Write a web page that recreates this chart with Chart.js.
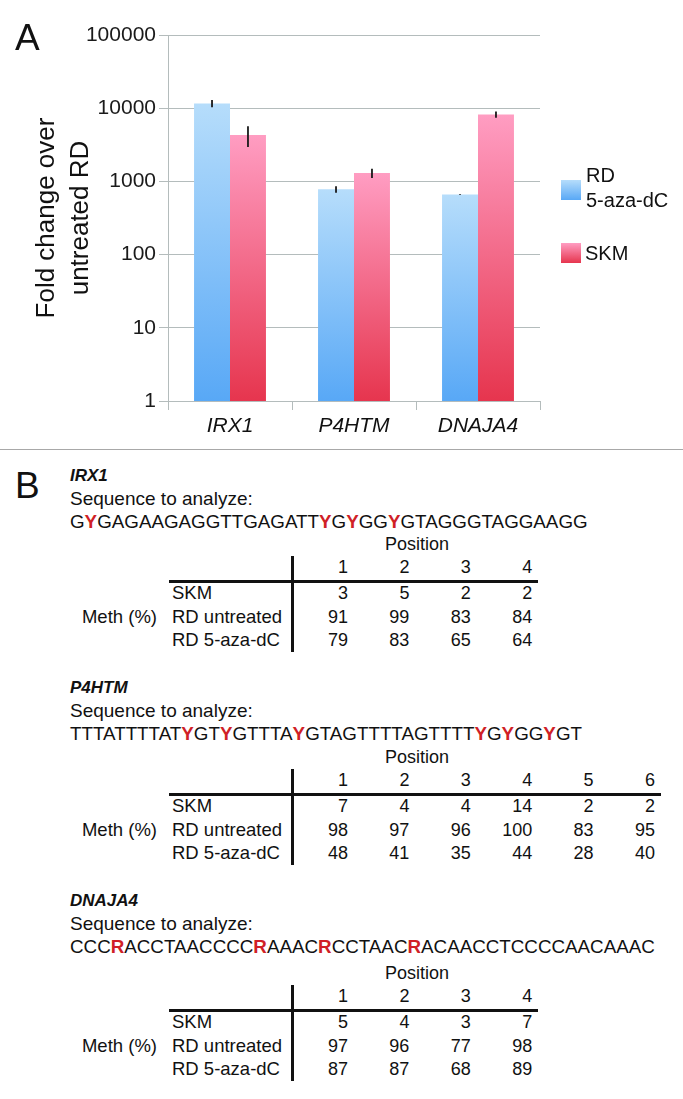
<!DOCTYPE html>
<html>
<head>
<meta charset="utf-8">
<script src="https://cdn.jsdelivr.net/npm/chart.js@4.4.0/dist/chart.umd.min.js"></script>
<style>
  body { margin: 0; background: #fff; }
  #page { position: relative; width: 683px; height: 1099px; overflow: hidden;
          font-family: "Liberation Sans", Arial, sans-serif; color: #111; }
  #chartBox { position: absolute; left: 0; top: 0; width: 683px; height: 449px; }
  .t { position: absolute; line-height: 1; white-space: nowrap; transform: translateY(-50%); }
  .r { transform: translate(-100%, -50%); }
  .c { transform: translate(-50%, -50%); }
  .sep { position: absolute; left: 0; top: 449px; width: 683px; height: 1px; background: #a8a8a8; }
  .rule { position: absolute; background: #111; }
  .deg { color: #d01f27; font-weight: bold; }
  .sw { position: absolute; width: 20px; height: 20px; }
</style>
</head>
<body>
<div id="page">
  <div id="chartBox"><canvas id="foldChart"></canvas></div>
  <div class="sep"></div>
</div>
<script>
// panel A
const genes = ["IRX1", "P4HTM", "DNAJA4"];
const rdAzaValues = [11600, 780, 660];
const rdAzaErrors = [1300, 80, 10];
const skmValues = [4300, 1300, 8200];
const skmErrors = [1350, 190, 820];
const tickValues = [1, 10, 100, 1000, 10000, 100000];
const tickLabels = ["1", "10", "100", "1000", "10000", "100000"];
const seriesNames = [["RD", "5-aza-dC"], ["SKM"]];

// panel B
const rowNames = ["SKM", "RD untreated", "RD 5-aza-dC"];
const irx1Sequence = "GYGAGAAGAGGTTGAGATTYGYGGYGTAGGGTAGGAAGG";
const irx1Positions = [1, 2, 3, 4];
const irx1Skm = [3, 5, 2, 2];
const irx1Untreated = [91, 99, 83, 84];
const irx1Aza = [79, 83, 65, 64];
const p4htmSequence = "TTTATTTTATYGTYGTTTAYGTAGTTTTAGTTTTYGYGGYGT";
const p4htmPositions = [1, 2, 3, 4, 5, 6];
const p4htmSkm = [7, 4, 4, 14, 2, 2];
const p4htmUntreated = [98, 97, 96, 100, 83, 95];
const p4htmAza = [48, 41, 35, 44, 28, 40];
const dnaja4Sequence = "CCCRACCTAACCCCRAAACRCCTAACRACAACCTCCCCAACAAAC";
const dnaja4Positions = [1, 2, 3, 4];
const dnaja4Skm = [5, 4, 3, 7];
const dnaja4Untreated = [97, 96, 77, 98];
const dnaja4Aza = [87, 87, 68, 89];

const family = "'Liberation Sans', Arial, sans-serif";
const gridColor = "#b4bcbc";
const page = document.getElementById("page");

function barGradient(light, dark) {
    return function(ctx) {
        const chart = ctx.chart;
        const area = chart.chartArea;
        if (!area || ctx.raw == null) return dark;
        const top = chart.scales.y.getPixelForValue(ctx.raw);
        const g = chart.ctx.createLinearGradient(0, top, 0, area.bottom);
        g.addColorStop(0, light);
        g.addColorStop(1, dark);
        return g;
    };
}

const errorBars = {
    id: "errorBars",
    afterDatasetsDraw(chart) {
        const c = chart.ctx;
        const y = chart.scales.y;
        const errs = [rdAzaErrors, skmErrors];
        c.save();
        c.strokeStyle = "#1a1a1a";
        c.lineWidth = 1.8;
        chart.data.datasets.forEach((ds, i) => {
            chart.getDatasetMeta(i).data.forEach((bar, j) => {
                const v = ds.data[j];
                const e = errs[i][j];
                c.beginPath();
                c.moveTo(bar.x, y.getPixelForValue(v + e));
                c.lineTo(bar.x, y.getPixelForValue(v - e));
                c.stroke();
            });
        });
        c.restore();
    }
};

new Chart(document.getElementById("foldChart"), {
    type: "bar",
    data: {
        labels: genes,
        datasets: [{
            label: seriesNames[0].join(" "),
            data: rdAzaValues,
            backgroundColor: barGradient("#b6ddfb", "#58a8f6"),
            categoryPercentage: 0.58,
            barPercentage: 1
        }, {
            label: seriesNames[1].join(" "),
            data: skmValues,
            backgroundColor: barGradient("#ff9dc2", "#e6354e"),
            categoryPercentage: 0.58,
            barPercentage: 1
        }]
    },
    options: {
        responsive: true,
        maintainAspectRatio: false,
        animation: false,
        layout: { padding: { left: 0, right: 143, top: 35, bottom: 0 } },
        plugins: { legend: { display: false }, tooltip: { enabled: false } },
        scales: {
            y: {
                type: "logarithmic",
                min: 1,
                max: 100000,
                afterBuildTicks(scale) {
                    scale.ticks = tickValues.map(v => ({ value: v }));
                },
                afterFit(scale) { scale.width = 168; },
                ticks: {
                    autoSkip: false,
                    padding: 3,
                    color: "#1a1a1a",
                    font: { size: 21, family: family },
                    callback: v => tickLabels[tickValues.indexOf(v)] || ""
                },
                grid: { color: gridColor, tickLength: 9 },
                border: { color: gridColor },
                title: {
                    display: true,
                    text: ["Fold change over", "untreated RD"],
                    color: "#111",
                    font: { size: 26, family: family, lineHeight: 1.34 },
                    padding: { top: 29, bottom: 0 }
                }
            },
            x: {
                afterFit(scale) { scale.height = 48; },
                ticks: {
                    padding: 4,
                    color: "#111",
                    font: { size: 21, style: "italic", family: family }
                },
                grid: { drawOnChartArea: false, offset: true, tickLength: 9, color: gridColor },
                border: { color: gridColor }
            }
        }
    },
    plugins: [errorBars]
});

function put(html, x, y, size, anchor, extra) {
    const d = document.createElement("div");
    d.className = "t" + (anchor ? " " + anchor : "");
    d.style.left = x + "px";
    d.style.top = y + "px";
    d.style.fontSize = size + "px";
    if (extra) Object.assign(d.style, extra);
    d.innerHTML = html;
    page.appendChild(d);
}

function rule(x, y, w, h) {
    const d = document.createElement("div");
    d.className = "rule";
    d.style.left = x + "px";
    d.style.top = y + "px";
    d.style.width = w + "px";
    d.style.height = h + "px";
    page.appendChild(d);
}

// panel letters and legend
put("A", 15, 37, 37);
put("B", 15, 485, 37);

const swatchBlue = document.createElement("div");
swatchBlue.className = "sw";
swatchBlue.style.left = "561px";
swatchBlue.style.top = "180px";
swatchBlue.style.background = "linear-gradient(#b6ddfb, #58a8f6)";
page.appendChild(swatchBlue);
const swatchPink = document.createElement("div");
swatchPink.className = "sw";
swatchPink.style.left = "561px";
swatchPink.style.top = "243px";
swatchPink.style.background = "linear-gradient(#ff9dc2, #e6354e)";
page.appendChild(swatchPink);
put(seriesNames[0][0], 586, 175, 20);
put(seriesNames[0][1], 586, 200, 20);
put(seriesNames[1][0], 585, 253, 20);

// methylation tables
const blocks = [
    { gene: genes[0], seq: irx1Sequence, pos: irx1Positions, rows: [irx1Skm, irx1Untreated, irx1Aza], top: 475, tab: 69 },
    { gene: genes[1], seq: p4htmSequence, pos: p4htmPositions, rows: [p4htmSkm, p4htmUntreated, p4htmAza], top: 687, tab: 70 },
    { gene: genes[2], seq: dnaja4Sequence, pos: dnaja4Positions, rows: [dnaja4Skm, dnaja4Untreated, dnaja4Aza], top: 900, tab: 73 }
];

blocks.forEach(b => {
    put(b.gene, 70, b.top, 17, "", { fontWeight: "bold", fontStyle: "italic" });
    put("Sequence to analyze:", 70, b.top + 23, 19);
    put(b.seq.replace(/[YR]/g, m => '<span class="deg">' + m + "</span>"), 70, b.top + 47, 18.8);

    const py = b.top + b.tab;
    put("Position", 417, py, 18, "c");
    const headY = py + 23;
    const colX = b.pos.map((p, k) => 348 + k * 61.4);
    b.pos.forEach((p, k) => put(String(p), colX[k], headY, 18, "r"));
    const lineY = headY + 14;
    rule(169, lineY - 1.5, colX[colX.length - 1] + 6 - 169, 3);
    rule(291, headY - 11, 3, 96);
    b.rows.forEach((vals, r) => {
        const ry = lineY + 12 + r * 23.5;
        put(rowNames[r], 172, ry, 18.5);
        vals.forEach((v, k) => put(String(v), colX[k], ry, 18, "r"));
    });
    put("Meth (%)", 157, lineY + 35.5, 18.5, "r");
});
</script>
</body>
</html>
